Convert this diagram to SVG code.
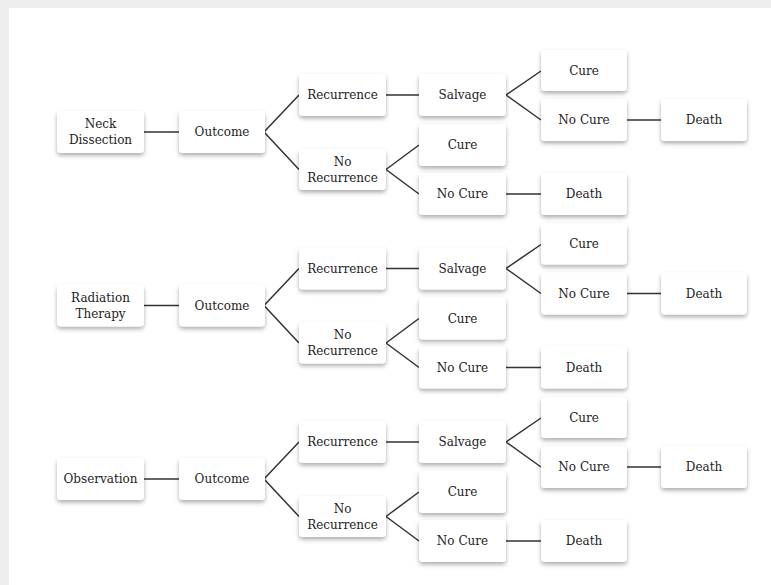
<svg xmlns="http://www.w3.org/2000/svg" width="771" height="585" viewBox="0 0 771 585">
<style>
.n rect{fill:#ffffff;rx:4;ry:4;filter:url(#sh)}
.n text{font-family:"DejaVu Serif","Liberation Serif",serif;font-size:12px;fill:#222222;text-anchor:middle;dominant-baseline:central}
.e{fill:none;stroke:#333333;stroke-width:1.5}
</style>
<defs>
<filter id="sh" x="-20%" y="-20%" width="140%" height="160%">
<feDropShadow dx="0" dy="2.5" stdDeviation="2" flood-color="#000000" flood-opacity="0.32"/>
</filter>
</defs>
<rect x="0" y="0" width="771" height="585" fill="#eeeeee"/>
<rect x="9" y="8" width="762" height="577" fill="#ffffff"/>

<g id="connectors">
<g transform="translate(0,0)">
<path class="e" d="M144 132H179M264 132L299 95M264 132L299 169.5M386 95H419M506 95L541 71M506 95L541 120M627 120H661M386 169.5L419 145M386 169.5L419 194M506 194H541"/>
</g>
<g transform="translate(0,173.5)">
<path class="e" d="M144 132H179M264 132L299 95M264 132L299 169.5M386 95H419M506 95L541 71M506 95L541 120M627 120H661M386 169.5L419 145M386 169.5L419 194M506 194H541"/>
</g>
<g transform="translate(0,347)">
<path class="e" d="M144 132H179M264 132L299 95M264 132L299 169.5M386 95H419M506 95L541 71M506 95L541 120M627 120H661M386 169.5L419 145M386 169.5L419 194M506 194H541"/>
</g>
</g>

<!-- Group 1 -->
<g id="neck-dissection" class="n"><rect x="57" y="111" width="87" height="42"/><text x="100.5" y="124">Neck</text><text x="100.5" y="140">Dissection</text></g>
<g id="outcome-1" class="n"><rect x="179" y="111" width="86" height="42"/><text x="222" y="132">Outcome</text></g>
<g id="recurrence-1" class="n"><rect x="299" y="74" width="87" height="42"/><text x="342.5" y="95">Recurrence</text></g>
<g id="salvage-1" class="n"><rect x="419" y="74" width="87" height="42"/><text x="462.5" y="95">Salvage</text></g>
<g id="cure-1a" class="n"><rect x="541" y="50" width="86" height="41"/><text x="584" y="70.5">Cure</text></g>
<g id="nocure-1a" class="n"><rect x="541" y="99" width="86" height="42"/><text x="584" y="120">No Cure</text></g>
<g id="death-1a" class="n"><rect x="661" y="99" width="86" height="42"/><text x="704" y="120">Death</text></g>
<g id="norecurrence-1" class="n"><rect x="299" y="149" width="87" height="41"/><text x="342.5" y="161.5">No</text><text x="342.5" y="177.5">Recurrence</text></g>
<g id="cure-1b" class="n"><rect x="419" y="124" width="87" height="42"/><text x="462.5" y="145">Cure</text></g>
<g id="nocure-1b" class="n"><rect x="419" y="173" width="87" height="42"/><text x="462.5" y="194">No Cure</text></g>
<g id="death-1b" class="n"><rect x="541" y="173" width="86" height="42"/><text x="584" y="194">Death</text></g>

<!-- Group 2 -->
<g id="radiation-therapy" class="n"><rect x="57" y="284.5" width="87" height="42"/><text x="100.5" y="297.5">Radiation</text><text x="100.5" y="313.5">Therapy</text></g>
<g id="outcome-2" class="n"><rect x="179" y="284.5" width="86" height="42"/><text x="222" y="305.5">Outcome</text></g>
<g id="recurrence-2" class="n"><rect x="299" y="247.5" width="87" height="42"/><text x="342.5" y="268.5">Recurrence</text></g>
<g id="salvage-2" class="n"><rect x="419" y="247.5" width="87" height="42"/><text x="462.5" y="268.5">Salvage</text></g>
<g id="cure-2a" class="n"><rect x="541" y="223.5" width="86" height="41"/><text x="584" y="244">Cure</text></g>
<g id="nocure-2a" class="n"><rect x="541" y="272.5" width="86" height="42"/><text x="584" y="293.5">No Cure</text></g>
<g id="death-2a" class="n"><rect x="661" y="272.5" width="86" height="42"/><text x="704" y="293.5">Death</text></g>
<g id="norecurrence-2" class="n"><rect x="299" y="322.5" width="87" height="41"/><text x="342.5" y="335">No</text><text x="342.5" y="351">Recurrence</text></g>
<g id="cure-2b" class="n"><rect x="419" y="297.5" width="87" height="42"/><text x="462.5" y="318.5">Cure</text></g>
<g id="nocure-2b" class="n"><rect x="419" y="346.5" width="87" height="42"/><text x="462.5" y="367.5">No Cure</text></g>
<g id="death-2b" class="n"><rect x="541" y="346.5" width="86" height="42"/><text x="584" y="367.5">Death</text></g>

<!-- Group 3 -->
<g id="observation" class="n"><rect x="57" y="458" width="87" height="42"/><text x="100.5" y="479">Observation</text></g>
<g id="outcome-3" class="n"><rect x="179" y="458" width="86" height="42"/><text x="222" y="479">Outcome</text></g>
<g id="recurrence-3" class="n"><rect x="299" y="421" width="87" height="42"/><text x="342.5" y="442">Recurrence</text></g>
<g id="salvage-3" class="n"><rect x="419" y="421" width="87" height="42"/><text x="462.5" y="442">Salvage</text></g>
<g id="cure-3a" class="n"><rect x="541" y="397" width="86" height="41"/><text x="584" y="417.5">Cure</text></g>
<g id="nocure-3a" class="n"><rect x="541" y="446" width="86" height="42"/><text x="584" y="467">No Cure</text></g>
<g id="death-3a" class="n"><rect x="661" y="446" width="86" height="42"/><text x="704" y="467">Death</text></g>
<g id="norecurrence-3" class="n"><rect x="299" y="496" width="87" height="41"/><text x="342.5" y="508.5">No</text><text x="342.5" y="524.5">Recurrence</text></g>
<g id="cure-3b" class="n"><rect x="419" y="471" width="87" height="42"/><text x="462.5" y="492">Cure</text></g>
<g id="nocure-3b" class="n"><rect x="419" y="520" width="87" height="42"/><text x="462.5" y="541">No Cure</text></g>
<g id="death-3b" class="n"><rect x="541" y="520" width="86" height="42"/><text x="584" y="541">Death</text></g>
</svg>
